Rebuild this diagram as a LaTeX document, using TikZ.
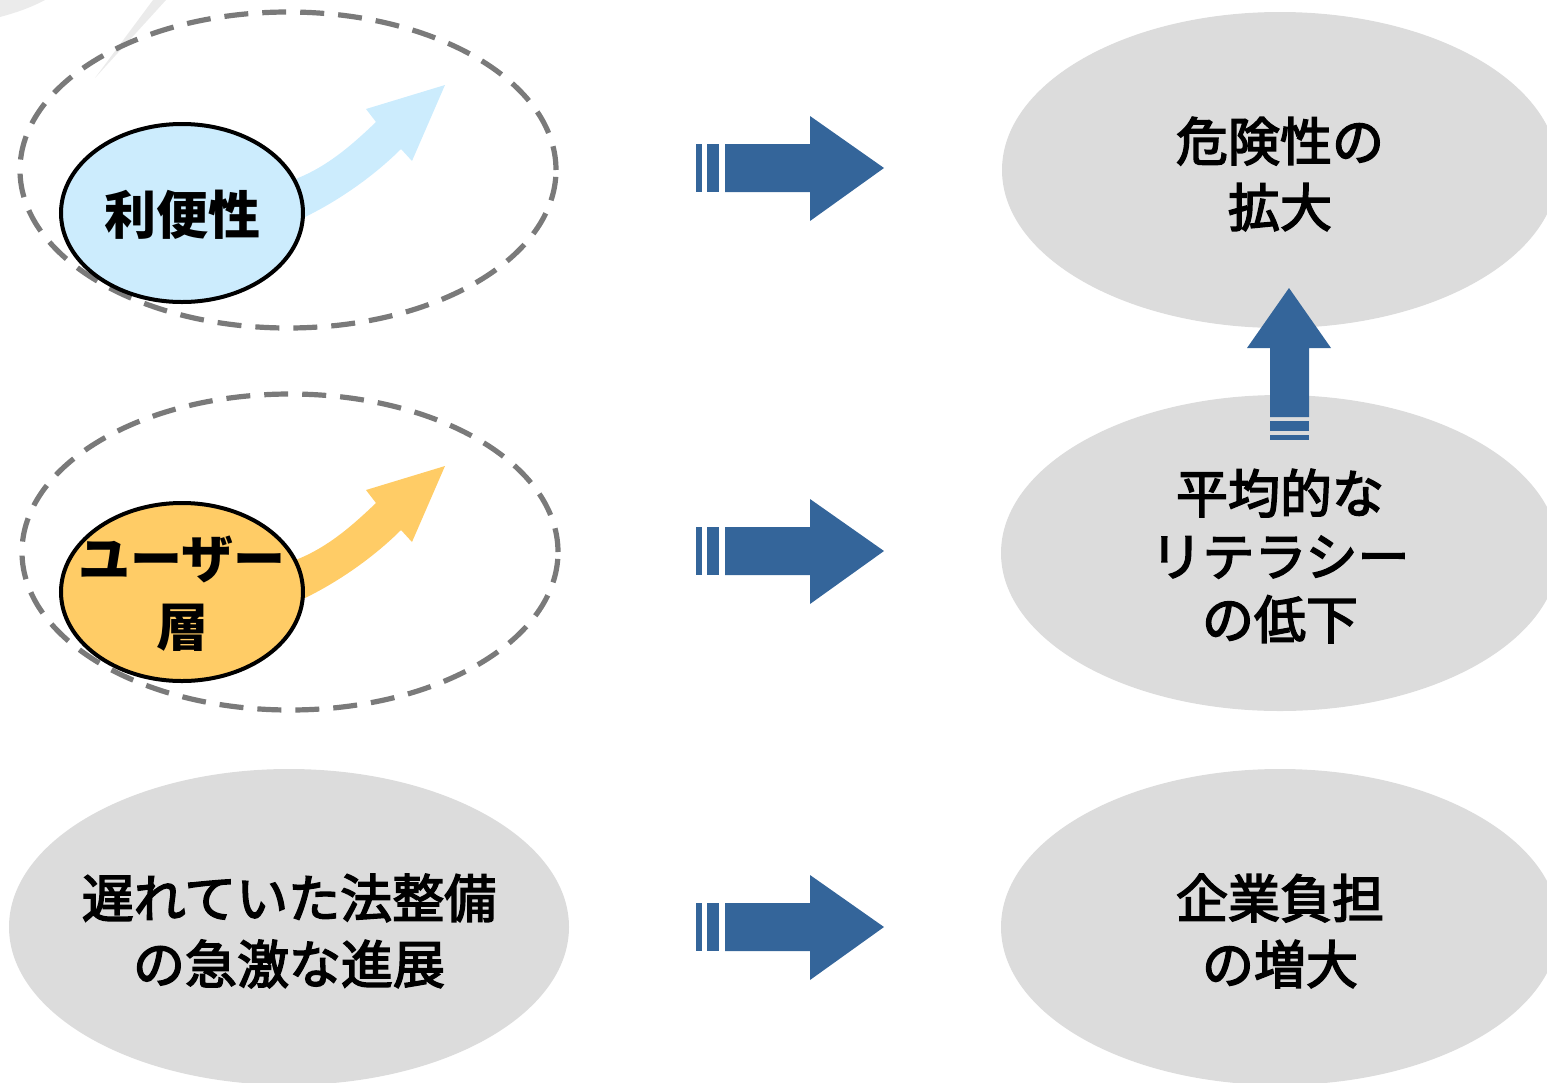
\documentclass[tikz,border=0pt]{standalone}
\usepackage{fontspec}
\newfontfamily\jp{Noto Sans CJK JP}
\newfontfamily\jpmed{Noto Sans CJK JP}[FakeBold=3]
\definecolor{bblue}{HTML}{34659A}
\definecolor{lblue}{HTML}{CCECFD}
\definecolor{lorange}{HTML}{FFCC66}
\definecolor{ellgray}{HTML}{DCDCDC}
\definecolor{dashgray}{HTML}{7A7A7A}
\definecolor{faint}{HTML}{EBEBEB}
\begin{document}
\begin{tikzpicture}[x=1pt,y=-1pt,
  grayell/.style={fill=ellgray},
  dashell/.style={draw=dashgray,line width=5.2pt,dash pattern=on 24pt off 14pt},
  smallell/.style={draw=black,line width=4pt},
  txt/.style={font=\jpmed\fontsize{52}{66}\selectfont,align=center,inner sep=0pt,text=black},
  btxt/.style={font=\jp\bfseries\fontsize{52}{66}\selectfont,align=center,inner sep=0pt,text=black},
  blockarrow/.style={fill=bblue}]
\useasboundingbox (0,0) rectangle (1547,1082);
\clip (0,0) rectangle (1547,1082);
% faint artefacts
\fill[faint] (0,0) -- (45,0) .. controls (30,8) and (15,13) .. (0,17) -- cycle;
\fill[faint] (153,0) -- (166,0) -- (95,78) -- cycle;
% gray ellipses
\fill[grayell] (1280,170) ellipse [x radius=278pt, y radius=158pt];
\fill[grayell] (1280,553) ellipse [x radius=279pt, y radius=158pt];
\fill[grayell] (1280,927) ellipse [x radius=279pt, y radius=158pt];
\fill[grayell] (289,927) ellipse [x radius=280pt, y radius=158pt];
% dashed ellipses
\draw[dashell] (288,170) ellipse [x radius=268pt, y radius=158pt];
\draw[dashell] (290,552) ellipse [x radius=268pt, y radius=158pt];
% curved arrows
\foreach \dy/\col in {0/lblue,381/lorange}{
  \begin{scope}[shift={(0,\dy)}]
  \fill[\col] (290,224) -- (305,217) .. controls (340,200) and (375,175) .. (401,149)
    -- (412,161) -- (445,85) -- (366,109) -- (376,122)
    .. controls (355,142) and (330,165) .. (298,178) -- (290,182) -- cycle;
  \end{scope}
}
% small ellipses
\filldraw[smallell,fill=lblue] (182,213) ellipse [x radius=121pt, y radius=89pt];
\filldraw[smallell,fill=lorange] (182,592) ellipse [x radius=121pt, y radius=89pt];
% texts
\node[btxt] (conv) at (182,215) {利便性};
\node[btxt,font=\jp\bfseries\fontsize{52}{68}\selectfont] (users) at (182,594) {ユーザー\\層};
\node[txt] (law) at (289,931) {遅れていた法整備\\の急激な進展};
\node[txt] (danger) at (1280,174) {危険性の\\拡大};
\node[txt,font=\jpmed\fontsize{52}{63}\selectfont] (literacy) at (1280,556) {平均的な\\リテラシー\\の低下};
\node[txt] (burden) at (1280,931) {企業負担\\の増大};
% block arrows right
\foreach \c in {168,551,927}{
  \fill[blockarrow] (696,\c-24) rectangle (702,\c+24);
  \fill[blockarrow] (707,\c-24) rectangle (719,\c+24);
  \fill[blockarrow] (725,\c-24) -- (810,\c-24) -- (810,\c-52) -- (884,\c)
    -- (810,\c+53) -- (810,\c+24) -- (725,\c+24) -- cycle;
}
% up arrow
\fill[blockarrow] (1289,288) -- (1331,348) -- (1309,348) -- (1309,417)
  -- (1270,417) -- (1270,348) -- (1247,348) -- cycle;
\fill[blockarrow] (1270,421) rectangle (1309,431);
\fill[blockarrow] (1270,435) rectangle (1309,440);
\end{tikzpicture}
\end{document}
